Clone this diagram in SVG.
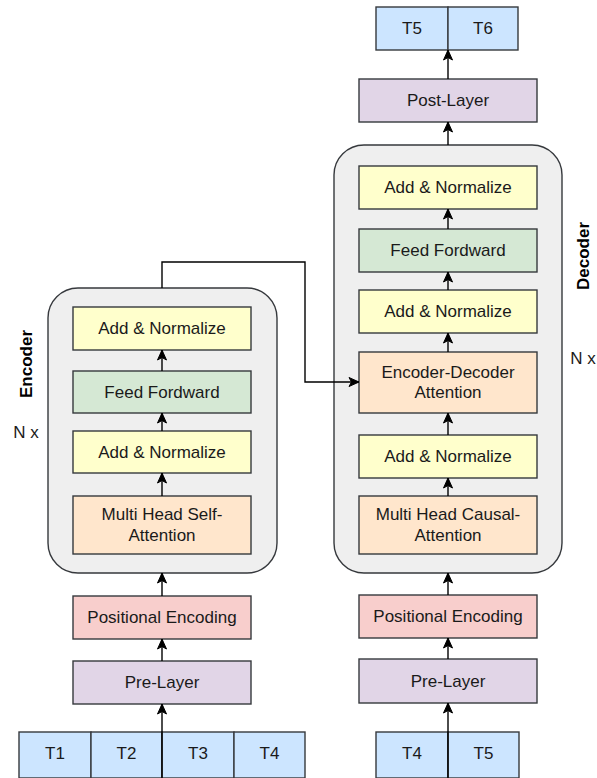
<svg xmlns="http://www.w3.org/2000/svg" width="597" height="778" viewBox="0 0 597 778">
<style>
.box{stroke:#36393d;stroke-width:1.4}
.cont{fill:#efefef;stroke:#36393d;stroke-width:1.4}
.yel{fill:#ffffcc}.grn{fill:#d5e8d4}.org{fill:#ffe6cc}.red{fill:#f8cecc}.pur{fill:#e1d5e7}.blu{fill:#cce5ff}
text{font-family:"Liberation Sans",Arial,sans-serif;font-size:17px;fill:#1a1a1a;text-anchor:middle;dominant-baseline:central}
.lbl{font-weight:bold;fill:#000}
.c{fill:none;stroke:#000;stroke-width:1.4}
</style>
<defs>
<marker id="ah" markerUnits="userSpaceOnUse" markerWidth="12" markerHeight="12" viewBox="0 0 12 12" refX="11" refY="6" orient="auto">
<path d="M1,1.5 L11,6 L1,10.5 L3.5,6 z" fill="#000" stroke="#000" stroke-width="1"/>
</marker>
</defs>
<rect width="597" height="778" fill="#fff"/>

<g id="encoder">
<rect class="cont" x="48" y="288" width="229" height="285" rx="30"/>
<text class="lbl" transform="translate(26,364) rotate(-90)">Encoder</text>
<text x="26" y="432">N x</text>
</g>
<g id="decoder">
<rect class="cont" x="334" y="145" width="228" height="428" rx="30"/>
<text class="lbl" transform="translate(583,256) rotate(-90)">Decoder</text>
<text x="583" y="358">N x</text>
</g>

<g id="enc-addnorm2"><rect class="box yel" x="73" y="307" width="178" height="43"/><text x="162" y="328.5">Add &amp; Normalize</text></g>
<g id="enc-ff"><rect class="box grn" x="73" y="371" width="178" height="42"/><text x="162" y="392">Feed Fordward</text></g>
<g id="enc-addnorm1"><rect class="box yel" x="73" y="431" width="178" height="42"/><text x="162" y="452">Add &amp; Normalize</text></g>
<g id="enc-mhsa"><rect class="box org" x="73" y="496" width="178" height="58"/><text x="162" y="514">Multi Head Self-</text><text x="162" y="535">Attention</text></g>
<g id="enc-pe"><rect class="box red" x="73" y="596" width="178" height="43"/><text x="162" y="617.5">Positional Encoding</text></g>
<g id="enc-pre"><rect class="box pur" x="73" y="661" width="178" height="43"/><text x="162" y="682.5">Pre-Layer</text></g>
<g id="enc-tokens">
<rect class="box blu" x="19" y="732" width="72" height="46"/><text x="55" y="753">T1</text>
<rect class="box blu" x="91" y="732" width="71" height="46"/><text x="126.5" y="753">T2</text>
<rect class="box blu" x="162" y="732" width="72" height="46"/><text x="198" y="753">T3</text>
<rect class="box blu" x="234" y="732" width="71" height="46"/><text x="269.5" y="753">T4</text>
</g>

<g id="dec-out">
<rect class="box blu" x="376" y="7" width="72" height="43"/><text x="412" y="28.5">T5</text>
<rect class="box blu" x="448" y="7" width="70" height="43"/><text x="483" y="28.5">T6</text>
</g>
<g id="dec-post"><rect class="box pur" x="359" y="79" width="178" height="43"/><text x="448" y="100.5">Post-Layer</text></g>
<g id="dec-addnorm3"><rect class="box yel" x="359" y="166" width="178" height="43"/><text x="448" y="187.5">Add &amp; Normalize</text></g>
<g id="dec-ff"><rect class="box grn" x="359" y="229" width="178" height="43"/><text x="448" y="250.5">Feed Fordward</text></g>
<g id="dec-addnorm2"><rect class="box yel" x="359" y="290" width="178" height="43"/><text x="448" y="311.5">Add &amp; Normalize</text></g>
<g id="dec-eda"><rect class="box org" x="359" y="352" width="178" height="61"/><text x="448" y="372">Encoder-Decoder</text><text x="448" y="392">Attention</text></g>
<g id="dec-addnorm1"><rect class="box yel" x="359" y="435" width="178" height="43"/><text x="448" y="456.5">Add &amp; Normalize</text></g>
<g id="dec-mhca"><rect class="box org" x="359" y="496" width="178" height="58"/><text x="448" y="514">Multi Head Causal-</text><text x="448" y="535">Attention</text></g>
<g id="dec-pe"><rect class="box red" x="359" y="595" width="178" height="43"/><text x="448" y="616.5">Positional Encoding</text></g>
<g id="dec-pre"><rect class="box pur" x="359" y="659" width="178" height="44"/><text x="448" y="681">Pre-Layer</text></g>
<g id="dec-tokens">
<rect class="box blu" x="376" y="732" width="72" height="46"/><text x="412" y="753">T4</text>
<rect class="box blu" x="448" y="732" width="71" height="46"/><text x="483.5" y="753">T5</text>
</g>

<g id="connectors">
<path class="c" marker-end="url(#ah)" d="M162,778 L162,704"/>
<path class="c" marker-end="url(#ah)" d="M162,661 L162,639"/>
<path class="c" marker-end="url(#ah)" d="M162,596 L162,573"/>
<path class="c" marker-end="url(#ah)" d="M162,496 L162,473"/>
<path class="c" marker-end="url(#ah)" d="M162,431 L162,413"/>
<path class="c" marker-end="url(#ah)" d="M162,371 L162,350"/>
<path class="c" marker-end="url(#ah)" d="M162,288 L162,262 L305,262 L305,382 L359,382"/>
<path class="c" marker-end="url(#ah)" d="M448,778 L448,703"/>
<path class="c" marker-end="url(#ah)" d="M448,659 L448,638"/>
<path class="c" marker-end="url(#ah)" d="M448,595 L448,573"/>
<path class="c" marker-end="url(#ah)" d="M448,496 L448,478"/>
<path class="c" marker-end="url(#ah)" d="M448,435 L448,413"/>
<path class="c" marker-end="url(#ah)" d="M448,352 L448,333"/>
<path class="c" marker-end="url(#ah)" d="M448,290 L448,272"/>
<path class="c" marker-end="url(#ah)" d="M448,229 L448,209"/>
<path class="c" marker-end="url(#ah)" d="M448,145 L448,122"/>
<path class="c" marker-end="url(#ah)" d="M448,79 L448,50"/>
</g>
</svg>
